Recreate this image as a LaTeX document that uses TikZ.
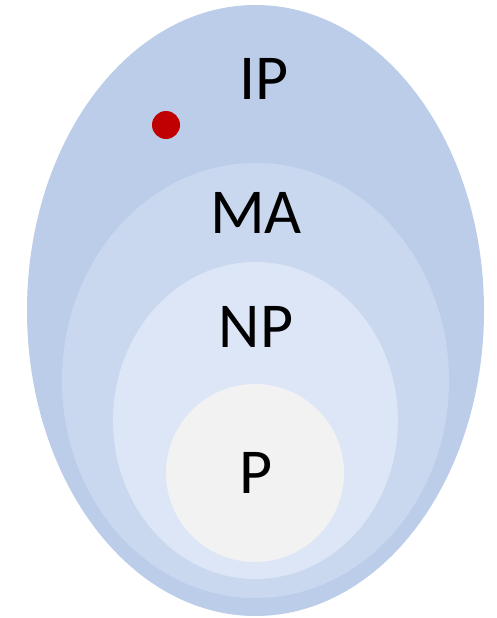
\documentclass[tikz,border=0pt]{standalone}
\usepackage{fontspec}
\setmainfont{Carlito}
\usetikzlibrary{shapes.geometric}
\definecolor{ipfill}{HTML}{BCCDE9}
\definecolor{mafill}{HTML}{C9D8EE}
\definecolor{npfill}{HTML}{DCE6F6}
\definecolor{pfill}{HTML}{F2F2F2}
\definecolor{dotred}{HTML}{C00000}
\tikzset{
  region/.style={ellipse, draw=none, inner sep=0pt},
  lbl/.style={font=\fontsize{64}{70}\selectfont, text=black, inner sep=0pt, anchor=center}
}
\begin{document}
\begin{tikzpicture}[x=1pt,y=-1pt]
  \useasboundingbox (0,0) rectangle (496,618);
  % nested sets, outermost first
  \node[region, fill=ipfill, minimum width=457pt, minimum height=611pt] (ip) at (255.5,310.5) {};
  \node[region, fill=mafill, minimum width=387pt, minimum height=435pt] (ma) at (255.5,380.5) {};
  \node[region, fill=npfill, minimum width=285pt, minimum height=317pt] (np) at (255.5,420.5) {};
  \node[region, fill=pfill, minimum width=178pt, minimum height=178pt] (p) at (255,473) {};
  % marked element
  \node[circle, fill=dotred, draw=none, minimum size=28pt, inner sep=0pt] (pt) at (166,125) {};
  % labels
  \node[lbl] (iplabel) at (264,78.5) {IP};
  \node[lbl] (malabel) at (256,212.5) {MA};
  \node[lbl] (nplabel) at (256,326.5) {NP};
  \node[lbl] (plabel) at (256,473) {P};
\end{tikzpicture}
\end{document}
